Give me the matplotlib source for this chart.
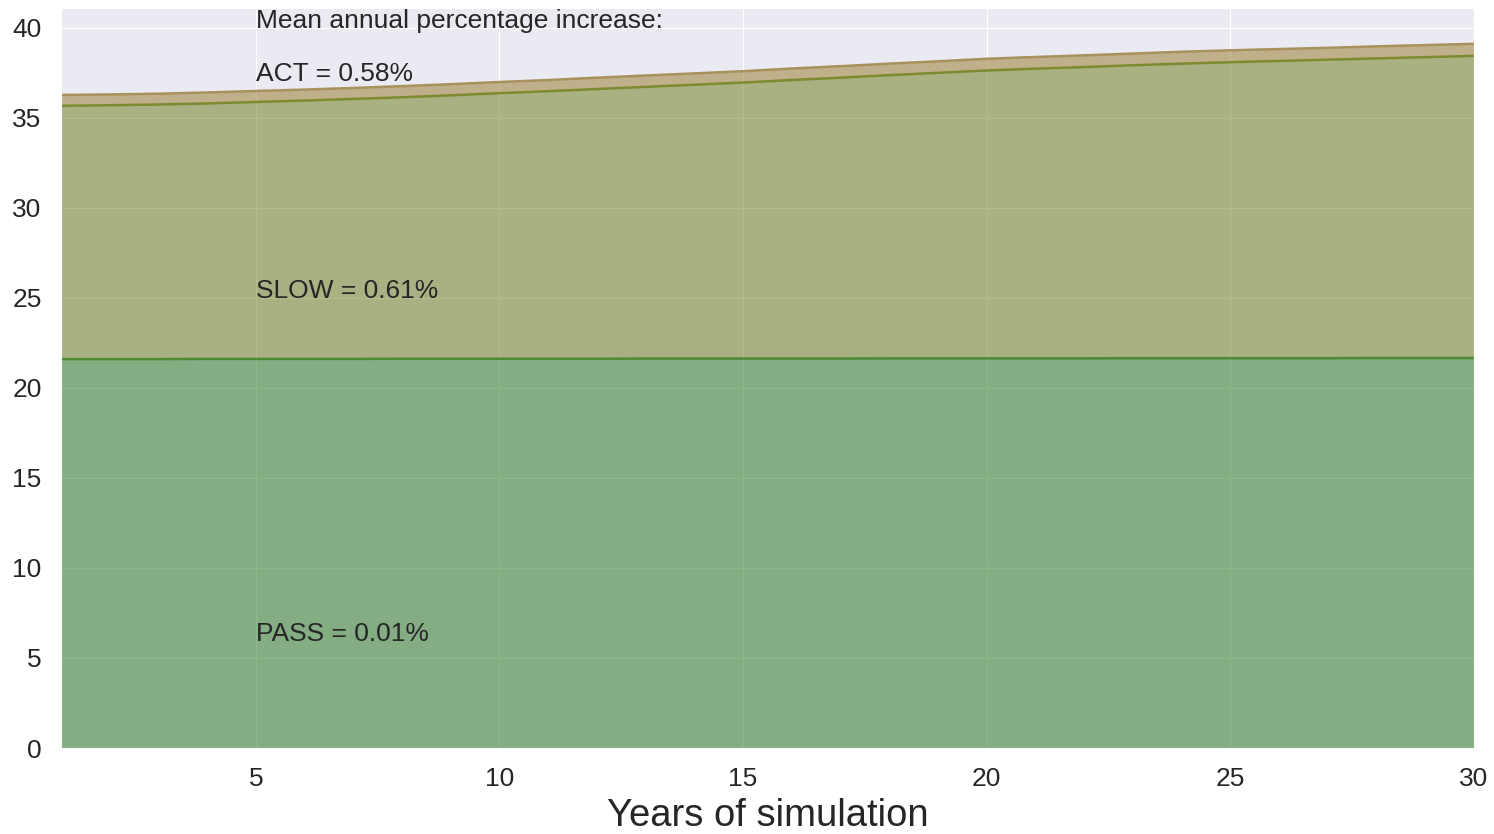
import matplotlib
matplotlib.use("Agg")
import matplotlib.pyplot as plt
import seaborn as sns
import numpy as np

sns.set_style("darkgrid")
plt.rcParams['font.family'] = ['Liberation Sans', 'DejaVu Sans']

years = list(range(1, 31))

# size of each stacked layer per year
pass_vals = [21.60, 21.60, 21.60, 21.61, 21.61, 21.61, 21.61, 21.62, 21.62, 21.62,
             21.62, 21.62, 21.63, 21.63, 21.63, 21.63, 21.63, 21.64, 21.64, 21.64,
             21.64, 21.64, 21.65, 21.65, 21.65, 21.65, 21.65, 21.66, 21.66, 21.66]
slow_vals = [14.07, 14.10, 14.14, 14.19, 14.27, 14.35, 14.44, 14.52, 14.63, 14.75,
             14.86, 14.98, 15.09, 15.21, 15.33, 15.47, 15.60, 15.73, 15.86, 15.99,
             16.09, 16.18, 16.27, 16.36, 16.44, 16.51, 16.58, 16.64, 16.71, 16.78]
act_vals = [0.60, 0.60, 0.60, 0.61, 0.61, 0.61, 0.61, 0.62, 0.62, 0.62,
            0.62, 0.63, 0.63, 0.63, 0.63, 0.64, 0.64, 0.64, 0.64, 0.65,
            0.65, 0.65, 0.65, 0.66, 0.66, 0.66, 0.66, 0.67, 0.67, 0.67]

labels = ["PASS", "SLOW", "ACT"]
increases = ["0.01%", "0.61%", "0.58%"]

fill_colors = ["#207216", "#6a7a16", "#967626"]
line_colors = ["#4d8a34", "#7d8a2e", "#a8915c"]

fig = plt.figure(figsize=(14.94, 8.34), dpi=100)
ax = fig.add_axes([0.0408, 0.1031, 0.9458, 0.8873])

layers = [pass_vals, slow_vals, act_vals]
bottom = np.zeros(len(years))
for vals, fc, lc in zip(layers, fill_colors, line_colors):
    top = bottom + np.array(vals)
    ax.fill_between(years, bottom, top, color=fc, alpha=0.5, linewidth=0)
    ax.plot(years, top, color=lc, linewidth=1.8)
    bottom = top

ax.set_xlim(1, 30)
ax.set_ylim(0, 41.1)
ax.set_xticks([5, 10, 15, 20, 25, 30])
ax.set_yticks(range(0, 41, 5))
ax.tick_params(labelsize=19, pad=10.5)
ax.set_xlabel("Years of simulation", fontsize=27.5, labelpad=4.5)

txt = dict(fontsize=19, color="#262626")
ax.text(5, 40.0, "Mean annual percentage increase:", **txt)
ax.text(5, 37.05, labels[2] + " = " + increases[2], **txt)
ax.text(5, 25.0, labels[1] + " = " + increases[1], **txt)
ax.text(5, 5.95, labels[0] + " = " + increases[0], **txt)

fig.savefig("out.png", dpi=100)
